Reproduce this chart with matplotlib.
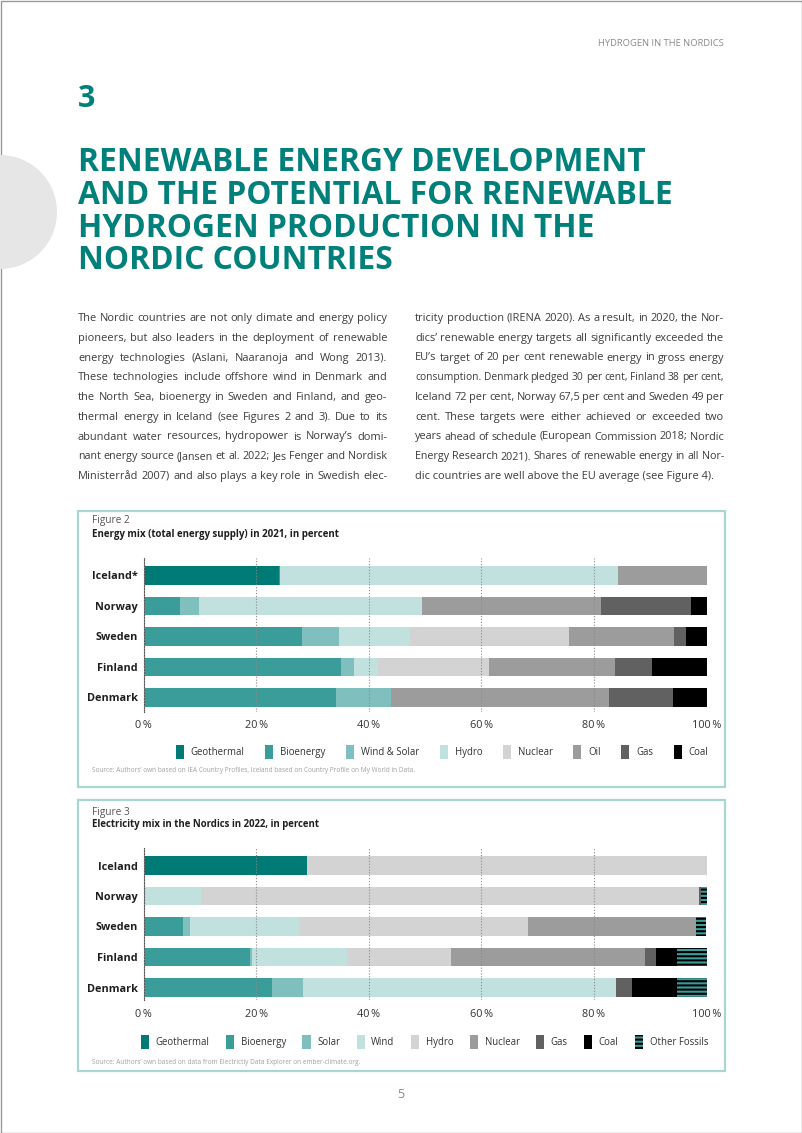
import matplotlib
matplotlib.use('Agg')
import matplotlib.pyplot as plt
from matplotlib.patches import Patch, Rectangle, Circle
import numpy as np

plt.rcParams['font.family'] = ['Open Sans', 'DejaVu Sans']
plt.rcParams['hatch.linewidth'] = 1.5

# ---------------- data ----------------
fig2_countries = ['Iceland*', 'Norway', 'Sweden', 'Finland', 'Denmark']
fig2_sources = ['Geothermal', 'Bioenergy', 'Wind & Solar', 'Hydro', 'Nuclear', 'Oil', 'Gas', 'Coal']
fig2_geothermal = [24.0, 0, 0, 0, 0]
fig2_bioenergy = [0.3, 6.4, 28.2, 35.0, 34.2]
fig2_windsolar = [0, 3.4, 6.5, 2.4, 9.7]
fig2_hydro = [60.0, 39.6, 12.6, 4.3, 0]
fig2_nuclear = [0, 0, 28.3, 19.7, 0]
fig2_oil = [15.7, 31.8, 18.6, 22.3, 38.7]
fig2_gas = [0, 16.1, 2.1, 6.7, 11.4]
fig2_coal = [0, 2.7, 3.7, 9.6, 6.0]

fig3_countries = ['Iceland', 'Norway', 'Sweden', 'Finland', 'Denmark']
fig3_sources = ['Geothermal', 'Bioenergy', 'Solar', 'Wind', 'Hydro', 'Nuclear', 'Gas', 'Coal', 'Other Fossils']
fig3_geothermal = [29.1, 0, 0, 0, 0]
fig3_bioenergy = [0, 0, 7.0, 19.0, 22.8]
fig3_solar = [0, 0, 1.2, 0.2, 5.6]
fig3_wind = [0, 10.3, 19.5, 16.9, 55.5]
fig3_hydro = [70.9, 88.4, 40.6, 18.6, 0]
fig3_nuclear = [0, 0, 29.9, 34.3, 0]
fig3_gas = [0, 0.4, 0, 2.0, 2.9]
fig3_coal = [0, 0, 0, 3.8, 8.0]
fig3_other = [0, 0.9, 1.8, 5.2, 5.2]

x_ticks = [0, 20, 40, 60, 80, 100]
x_tick_labels = ['0\u2009%', '20\u2009%', '40\u2009%', '60\u2009%', '80\u2009%', '100\u2009%']

header_text = 'HYDROGEN IN THE NORDICS'
chapter_number = '3'
title_lines = ['RENEWABLE ENERGY DEVELOPMENT',
               'AND THE POTENTIAL FOR RENEWABLE',
               'HYDROGEN PRODUCTION IN THE',
               'NORDIC COUNTRIES']
left_col = [
    'The Nordic countries are not only climate and energy policy',
    'pioneers, but also leaders in the deployment of renewable',
    'energy technologies (Aslani, Naaranoja and Wong 2013).',
    'These technologies include offshore wind in Denmark and',
    'the North Sea, bioenergy in Sweden and Finland, and geo-',
    'thermal energy in Iceland (see Figures 2 and 3). Due to its',
    'abundant water resources, hydropower is Norway\u2019s domi-',
    'nant energy source (Jansen et al. 2022; Jes Fenger and Nordisk',
    'Ministerr\u00e5d 2007) and also plays a key role in Swedish elec-',
]
right_col = [
    'tricity production (IRENA 2020). As a result, in 2020, the Nor-',
    'dics\u2019 renewable energy targets all significantly exceeded the',
    'EU\u2019s target of 20 per cent renewable energy in gross energy',
    'consumption. Denmark pledged 30 per cent, Finland 38 per cent,',
    'Iceland 72 per cent, Norway 67,5 per cent and Sweden 49 per',
    'cent. These targets were either achieved or exceeded two',
    'years ahead of schedule (European Commission 2018; Nordic',
    'Energy Research 2021). Shares of renewable energy in all Nor-',
    'dic countries are well above the EU average (see Figure 4).',
]
fig2_label = 'Figure 2'
fig2_title = 'Energy mix (total energy supply) in 2021, in percent'
fig2_source = ('Source: Authors\u2019 own based on IEA Country Profiles, Iceland based on '
               'Country Profile on My World in Data.')
fig3_label = 'Figure 3'
fig3_title = 'Electricity mix in the Nordics in 2022, in percent'
fig3_source = 'Source: Authors\u2019 own based on data from Electrictiy Data Explorer on ember-climate.org.'
page_number = '5'

# ---------------- colours ----------------
C_GEO = '#007a75'
C_BIO = '#3a9d99'
C_WS = '#7fbfbd'
C_LTEAL = '#c1e1df'
C_LGRAY = '#d3d3d3'
C_MGRAY = '#9c9c9c'
C_DGRAY = '#616161'
C_BLACK = '#000000'
TEAL_TXT = '#00807a'
BODY = '#3c3c3c'
BOX = '#a9d5d2'

W, H = 802, 1133
fig = plt.figure(figsize=(W / 100, H / 100), dpi=100)
bg = fig.add_axes([0, 0, 1, 1])
bg.set_xlim(0, W)
bg.set_ylim(H, 0)
bg.axis('off')
renderer = fig.canvas.get_renderer()


def measure(s, size, **kw):
    t = bg.text(0, 0, s, fontsize=size, **kw)
    w = t.get_window_extent(renderer).width
    t.remove()
    return w


def fit_text(x, y, s, width, size0=10, **kw):
    size = size0 * width / measure(s, size0, **{k: v for k, v in kw.items() if k in ('weight', 'family')})
    return bg.text(x, y, s, fontsize=size, **kw)


# page frame and decoration
bg.add_patch(Rectangle((0.5, 0.5), W - 1, H - 1, fill=False, edgecolor='#9a9a9a', lw=1))
bg.add_patch(Circle((0, 212), 57, color='#e6e6e6', lw=0))

fit_text(724, 46, header_text, 126, ha='right', va='baseline', color='#8a8a8a')
bg.text(78, 107, chapter_number, fontsize=22, weight='bold', color=TEAL_TXT, va='baseline', ha='left')

tsize = 20 * 594 / measure(title_lines[1], 20, weight='bold')
for i, line in enumerate(title_lines):
    bg.text(78, 171 + i * 32.8, line, fontsize=tsize, weight='bold', color=TEAL_TXT,
            ha='left', va='baseline')


# body text (justified, long lines set slightly tighter as in the original)
MIN_GAP = 2.2
S_MAX = 7.9


def justify(lines, x0, x1, y0, dy, last_justified):
    width = x1 - x0
    for i, ln in enumerate(lines):
        y = y0 + i * dy
        words = ln.split(' ')
        tot = sum(measure(w, S_MAX) for w in words)
        size = S_MAX * min(1.0, (width - (len(words) - 1) * MIN_GAP) / tot)
        last = (i == len(lines) - 1) and not last_justified
        if last:
            bg.text(x0, y, ln, fontsize=size, color=BODY, ha='left', va='baseline')
            continue
        widths = [measure(w, size) for w in words]
        gap = (width - sum(widths)) / (len(words) - 1)
        x = x0
        for w, wd in zip(words, widths):
            bg.text(x, y, w, fontsize=size, color=BODY, ha='left', va='baseline')
            x += wd + gap


justify(left_col, 78, 387, 321, 19.75, True)
justify(right_col, 415, 724, 321, 19.75, False)


def chart(box_top, box_bottom, label, title, y_label, y_title, ax_top, ax_bottom, centers,
          countries, series, colors, labels, hatches, tick_pad, legend_y, colspace,
          source, source_y, source_w, title_w):
    bg.add_patch(Rectangle((78, box_top), 647, box_bottom - box_top, fill=False,
                           edgecolor=BOX, lw=1.6))
    bg.text(92, y_label, label, fontsize=7.3, color='#555555', va='center', ha='left')
    fit_text(92, y_title, title, title_w, weight='bold', color='#1e1e1e', va='center', ha='left')
    fit_text(92, source_y, source, source_w, color='#a0a0a0', va='center', ha='left')

    x0, x1 = 143.5, 706.5
    ax = fig.add_axes([x0 / W, 1 - ax_bottom / H, (x1 - x0) / W, (ax_bottom - ax_top) / H])
    ax.set_facecolor('none')
    spacing = (centers[1] - centers[0])
    ypos = np.arange(len(countries))
    left = np.zeros(len(countries))
    handles = []
    for vals, col, lab, hat in zip(series, colors, labels, hatches):
        vals = np.asarray(vals, dtype=float)
        ax.barh(ypos, vals, left=left, height=0.62, color=col, lw=0,
                hatch=hat, edgecolor=('black' if hat else col), zorder=1)
        left = left + vals
        handles.append(Patch(facecolor=col, lw=0, hatch=hat, edgecolor=('black' if hat else col)))
    ax.set_xlim(0, 100)
    ax.set_ylim((ax_bottom - centers[0]) / spacing, (ax_top - centers[0]) / spacing)
    ax.set_yticks(ypos)
    ax.set_yticklabels(countries, fontsize=7.8, weight='bold', color='#1e1e1e')
    ax.set_xticks(x_ticks)
    ax.set_xticklabels(x_tick_labels, fontsize=7.8, color='#333333')
    ax.tick_params(axis='both', length=0)
    ax.tick_params(axis='x', pad=tick_pad)
    ax.tick_params(axis='y', pad=4)
    for s in ('top', 'right', 'bottom'):
        ax.spines[s].set_visible(False)
    ax.spines['left'].set_color('#555555')
    ax.spines['left'].set_linewidth(0.8)
    ax.set_axisbelow(False)
    ax.xaxis.grid(True, linestyle=(0, (1, 1.6)), color='#8a8a8a', lw=0.8)
    ax.yaxis.grid(False)
    leg = fig.legend(handles, labels, ncol=len(labels), loc='center right',
                     bbox_to_anchor=(713 / W, 1 - legend_y / H), frameon=False,
                     handlelength=0.85, handleheight=1.85, handletextpad=0.7,
                     columnspacing=colspace, borderpad=0, fontsize=6.9)
    for t in leg.get_texts():
        t.set_color('#333333')
    return ax


chart(511, 787, fig2_label, fig2_title, 521, 534, 558, 712,
      [575.5, 606.0, 636.5, 667.0, 697.5], fig2_countries,
      [fig2_geothermal, fig2_bioenergy, fig2_windsolar, fig2_hydro, fig2_nuclear,
       fig2_oil, fig2_gas, fig2_coal],
      [C_GEO, C_BIO, C_WS, C_LTEAL, C_LGRAY, C_MGRAY, C_DGRAY, C_BLACK],
      fig2_sources, [None] * 8, 6.0, 752, 2.15, fig2_source, 771, 325, 248)

chart(800, 1071, fig3_label, fig3_title, 812, 824, 848, 1000,
      [865.5, 896.0, 926.5, 957.0, 987.5], fig3_countries,
      [fig3_geothermal, fig3_bioenergy, fig3_solar, fig3_wind, fig3_hydro,
       fig3_nuclear, fig3_gas, fig3_coal, fig3_other],
      [C_GEO, C_BIO, C_WS, C_LTEAL, C_LGRAY, C_MGRAY, C_DGRAY, C_BLACK, C_BIO],
      fig3_sources, [None] * 8 + ['----'], 6.8, 1042, 1.7, fig3_source, 1062, 269, 229)

bg.text(401, 1094, page_number, fontsize=9, color='#888888', ha='center', va='center')

fig.savefig('out.png', dpi=100)
